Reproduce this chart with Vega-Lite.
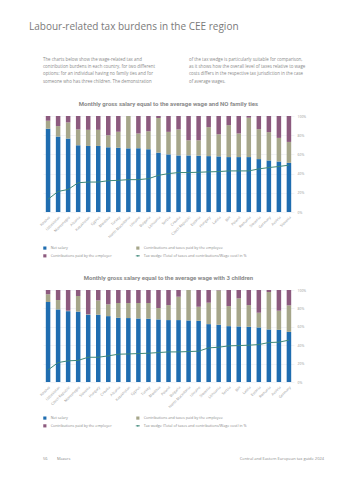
{
  "$schema": "https://vega.github.io/schema/vega-lite/v6.json",
  "background": "white",
  "padding": {"left": 29, "top": 22, "right": 29, "bottom": 5},
  "title": {"text": "Labour-related tax burdens in the CEE region", "anchor": "start", "fontSize": 10, "font": "Open Sans", "fontWeight": "normal", "color": "#7a7a7a", "offset": 25, "frame": "bounds"},
  "datasets": {
    "nofam": [
      {"country": "Kosovo", "net": 86.7, "employee": 8.4, "company": 4.9, "wedge": 13.3},
      {"country": "Uzbekistan", "net": 78.6, "employee": 10.9, "company": 10.5, "wedge": 21.4},
      {"country": "Montenegro", "net": 76.5, "employee": 16.8, "company": 6.7, "wedge": 23.5},
      {"country": "Albania", "net": 69.5, "employee": 16.5, "company": 14.0, "wedge": 30.5},
      {"country": "Kazakhstan", "net": 68.8, "employee": 16.8, "company": 14.4, "wedge": 31.2},
      {"country": "Cyprus", "net": 68.8, "employee": 16.8, "company": 14.4, "wedge": 31.2},
      {"country": "Moldova", "net": 67.4, "employee": 12.6, "company": 20.0, "wedge": 32.6},
      {"country": "Turkey", "net": 67.0, "employee": 16.5, "company": 16.5, "wedge": 33.0},
      {"country": "North Macedonia", "net": 66.3, "employee": 33.7, "company": 0.0, "wedge": 33.7},
      {"country": "Ukraine", "net": 66.3, "employee": 15.5, "company": 18.2, "wedge": 33.7},
      {"country": "Bulgaria", "net": 65.3, "employee": 18.9, "company": 15.8, "wedge": 34.7},
      {"country": "Lithuania", "net": 61.8, "employee": 36.1, "company": 2.1, "wedge": 38.2},
      {"country": "Serbia", "net": 60.0, "employee": 23.5, "company": 16.5, "wedge": 40.0},
      {"country": "Croatia", "net": 58.9, "employee": 27.1, "company": 14.0, "wedge": 41.1},
      {"country": "Czech Republic", "net": 58.9, "employee": 15.8, "company": 25.3, "wedge": 41.1},
      {"country": "Estonia", "net": 58.6, "employee": 16.1, "company": 25.3, "wedge": 41.4},
      {"country": "Hungary", "net": 58.2, "employee": 30.2, "company": 11.6, "wedge": 41.8},
      {"country": "Latvia", "net": 57.9, "employee": 23.1, "company": 19.0, "wedge": 42.1},
      {"country": "BiH", "net": 57.2, "employee": 33.3, "company": 9.5, "wedge": 42.8},
      {"country": "Poland", "net": 57.2, "employee": 24.6, "company": 18.2, "wedge": 42.8},
      {"country": "Romania", "net": 57.2, "employee": 41.0, "company": 1.8, "wedge": 42.8},
      {"country": "Slovenia", "net": 55.1, "employee": 31.2, "company": 13.7, "wedge": 44.9},
      {"country": "Germany", "net": 53.7, "employee": 29.5, "company": 16.8, "wedge": 46.3},
      {"country": "Austria", "net": 52.6, "employee": 24.6, "company": 22.8, "wedge": 47.4},
      {"country": "Slovakia", "net": 51.2, "employee": 21.8, "company": 27.0, "wedge": 48.8}
    ],
    "kids": [
      {"country": "Kosovo", "net": 86.9, "employee": 8.4, "company": 4.7, "wedge": 13.1},
      {"country": "Uzbekistan", "net": 78.9, "employee": 10.2, "company": 10.9, "wedge": 21.1},
      {"country": "Czech Republic", "net": 77.0, "employee": 0.5, "company": 22.5, "wedge": 23.0},
      {"country": "Montenegro", "net": 76.5, "employee": 17.0, "company": 6.5, "wedge": 23.5},
      {"country": "Slovakia", "net": 73.1, "employee": 0.5, "company": 26.4, "wedge": 26.9},
      {"country": "Hungary", "net": 73.1, "employee": 15.6, "company": 11.3, "wedge": 26.9},
      {"country": "Croatia", "net": 71.6, "employee": 12.8, "company": 15.6, "wedge": 28.4},
      {"country": "Albania", "net": 69.8, "employee": 16.0, "company": 14.2, "wedge": 30.2},
      {"country": "Kazakhstan", "net": 69.5, "employee": 16.3, "company": 14.2, "wedge": 30.5},
      {"country": "Cyprus", "net": 69.1, "employee": 16.7, "company": 14.2, "wedge": 30.9},
      {"country": "Turkey", "net": 68.7, "employee": 17.1, "company": 14.2, "wedge": 31.3},
      {"country": "Moldova", "net": 68.0, "employee": 12.4, "company": 19.6, "wedge": 32.0},
      {"country": "Poland", "net": 67.3, "employee": 16.3, "company": 16.4, "wedge": 32.7},
      {"country": "Bulgaria", "net": 67.3, "employee": 25.4, "company": 7.3, "wedge": 32.7},
      {"country": "North Macedonia", "net": 66.9, "employee": 33.1, "company": 0.0, "wedge": 33.1},
      {"country": "Ukraine", "net": 66.5, "employee": 15.3, "company": 18.2, "wedge": 33.5},
      {"country": "Slovenia", "net": 62.9, "employee": 23.3, "company": 13.8, "wedge": 37.1},
      {"country": "Lithuania", "net": 62.2, "employee": 37.4, "company": 0.4, "wedge": 37.8},
      {"country": "Serbia", "net": 60.7, "employee": 21.8, "company": 17.5, "wedge": 39.3},
      {"country": "BiH", "net": 60.4, "employee": 30.5, "company": 9.1, "wedge": 39.6},
      {"country": "Latvia", "net": 60.0, "employee": 23.6, "company": 16.4, "wedge": 40.0},
      {"country": "Estonia", "net": 59.3, "employee": 16.0, "company": 24.7, "wedge": 40.7},
      {"country": "Romania", "net": 57.1, "employee": 40.7, "company": 2.2, "wedge": 42.9},
      {"country": "Austria", "net": 56.7, "employee": 20.8, "company": 22.5, "wedge": 43.3},
      {"country": "Germany", "net": 54.5, "employee": 28.8, "company": 16.7, "wedge": 45.5}
    ]
  },
  "spacing": 16,
  "resolve": {"scale": {"color": "independent"}, "legend": {"color": "independent"}},
  "vconcat": [
    {
      "spacing": 23,
      "hconcat": [
        {
          "width": 123, "height": 1,
          "data": {"values": []},
          "mark": "text",
          "title": {"text": ["The charts below show the wage-related tax and", "contribution burdens in each country, for two different", "options: for an individual having no family ties and for", "someone who has three children. The demonstration"], "anchor": "start", "fontSize": 4.4, "lineHeight": 7.1, "fontWeight": "normal", "font": "Open Sans", "color": "#8a8a8a", "offset": 0}
        },
        {
          "width": 130, "height": 1,
          "data": {"values": []},
          "mark": "text",
          "title": {"text": ["of the tax wedge is particularly suitable for comparison,", "as it shows how the overall level of taxes relative to wage", "costs differs in the respective tax jurisdiction in the case", "of average wages."], "anchor": "start", "fontSize": 4.4, "lineHeight": 7.1, "fontWeight": "normal", "font": "Open Sans", "color": "#8a8a8a", "offset": 0}
        }
      ]
    },
    {
      "title": {"text": "Monthly gross salary equal to the average wage and NO family ties", "anchor": "middle", "frame": "group", "fontSize": 6, "fontWeight": "bold", "font": "Roboto", "color": "#8a8a8a", "offset": 7},
      "data": {"name": "nofam"},
      "width": 251, "height": 96,
      "layer": [
        {
          "transform": [{"fold": ["net", "employee", "company"], "as": ["part", "share"]}],
          "mark": {"type": "bar"},
          "encoding": {
            "x": {"field": "country", "type": "nominal", "sort": null, "title": null,
                  "scale": {"paddingInner": 0.55, "paddingOuter": 0.28},
                  "axis": {"labelAngle": -45, "labelFontSize": 3.6, "labelColor": "#999999", "ticks": false, "domain": false, "labelPadding": 3, "labelFont": "Open Sans"}},
            "y": {"field": "share", "type": "quantitative", "stack": "zero", "title": null,
                  "scale": {"domain": [0, 100]},
                  "axis": {"orient": "right", "values": [0, 20, 40, 60, 80, 100], "labelExpr": "datum.value + '%'", "labelFontSize": 3.4, "labelColor": "#999999", "domain": false, "ticks": false, "grid": true, "gridColor": "#e6e9ee", "gridWidth": 0.5, "labelPadding": 3, "labelFont": "Open Sans"}},
            "order": {"field": "part", "sort": "descending"},
            "color": {"field": "part", "type": "nominal",
                      "scale": {"domain": ["net", "employee", "company", "wedge"], "range": ["#1f6db0", "#a6a68a", "#8c5a7e", "#3e8878"]},
                      "legend": {"orient": "bottom", "direction": "horizontal", "columns": 2, "title": null, "offset": 7, "padding": 0,
                                 "labelFontSize": 3.7, "labelColor": "#8a8a8a", "labelFont": "Open Sans", "symbolSize": 10, "labelOffset": 4, "columnPadding": 22, "rowPadding": 3, "labelLimit": 200,
                                 "labelExpr": "datum.value == 'net' ? 'Net salary' : datum.value == 'employee' ? 'Contributions and taxes paid by the employee' : datum.value == 'company' ? 'Contributions paid by the employer' : 'Tax wedge (Total of taxes and contributions/Wage cost) in %'",
                                 "encode": {"symbols": {"update": {
                                   "shape": {"signal": "datum.value == 'wedge' ? 'M-1.3,0L1.3,0M0,-0.35L0.35,0L0,0.35L-0.35,0Z' : 'square'"},
                                   "fill": {"signal": "scale('color', datum.value)"},
                                   "stroke": {"signal": "scale('color', datum.value)"},
                                   "strokeWidth": {"signal": "datum.value == 'wedge' ? 0.8 : 0"},
                                   "opacity": {"value": 1}
                                 }}}}}
          }
        },
        {
          "mark": {"type": "line", "strokeWidth": 1},
          "encoding": {
            "x": {"field": "country", "type": "nominal", "sort": null},
            "y": {"field": "wedge", "type": "quantitative", "scale": {"domain": [0, 100]},
                  "axis": {"orient": "left", "labels": false, "ticks": false, "domain": false, "grid": false, "title": null, "minExtent": 14, "maxExtent": 14}},
            "color": {"datum": "wedge"}
          }
        }
      ],
      "resolve": {"axis": {"y": "independent"}}
    },
    {
      "title": {"text": "Monthly gross salary equal to the average wage with 3 children", "anchor": "middle", "frame": "group", "fontSize": 6, "fontWeight": "bold", "font": "Roboto", "color": "#8a8a8a", "offset": 7},
      "data": {"name": "kids"},
      "width": 251, "height": 92,
      "layer": [
        {
          "transform": [{"fold": ["net", "employee", "company"], "as": ["part", "share"]}],
          "mark": {"type": "bar"},
          "encoding": {
            "x": {"field": "country", "type": "nominal", "sort": null, "title": null,
                  "scale": {"paddingInner": 0.55, "paddingOuter": 0.28},
                  "axis": {"labelAngle": -45, "labelFontSize": 3.6, "labelColor": "#999999", "ticks": false, "domain": false, "labelPadding": 3, "labelFont": "Open Sans"}},
            "y": {"field": "share", "type": "quantitative", "stack": "zero", "title": null,
                  "scale": {"domain": [0, 100]},
                  "axis": {"orient": "right", "values": [0, 20, 40, 60, 80, 100], "labelExpr": "datum.value + '%'", "labelFontSize": 3.4, "labelColor": "#999999", "domain": false, "ticks": false, "grid": true, "gridColor": "#e6e9ee", "gridWidth": 0.5, "labelPadding": 3, "labelFont": "Open Sans"}},
            "order": {"field": "part", "sort": "descending"},
            "color": {"field": "part", "type": "nominal",
                      "scale": {"domain": ["net", "employee", "company", "wedge"], "range": ["#1f6db0", "#a6a68a", "#8c5a7e", "#3e8878"]},
                      "legend": {"orient": "bottom", "direction": "horizontal", "columns": 2, "title": null, "offset": 7, "padding": 0,
                                 "labelFontSize": 3.7, "labelColor": "#8a8a8a", "labelFont": "Open Sans", "symbolSize": 10, "labelOffset": 4, "columnPadding": 22, "rowPadding": 3, "labelLimit": 200,
                                 "labelExpr": "datum.value == 'net' ? 'Net salary' : datum.value == 'employee' ? 'Contributions and taxes paid by the employee' : datum.value == 'company' ? 'Contributions paid by the employer' : 'Tax wedge (Total of taxes and contributions/Wage cost) in %'",
                                 "encode": {"symbols": {"update": {
                                   "shape": {"signal": "datum.value == 'wedge' ? 'M-1.3,0L1.3,0M0,-0.35L0.35,0L0,0.35L-0.35,0Z' : 'square'"},
                                   "fill": {"signal": "scale('color', datum.value)"},
                                   "stroke": {"signal": "scale('color', datum.value)"},
                                   "strokeWidth": {"signal": "datum.value == 'wedge' ? 0.8 : 0"},
                                   "opacity": {"value": 1}
                                 }}}}}
          }
        },
        {
          "mark": {"type": "line", "strokeWidth": 1},
          "encoding": {
            "x": {"field": "country", "type": "nominal", "sort": null},
            "y": {"field": "wedge", "type": "quantitative", "scale": {"domain": [0, 100]},
                  "axis": {"orient": "left", "labels": false, "ticks": false, "domain": false, "grid": false, "title": null, "minExtent": 14, "maxExtent": 14}},
            "color": {"datum": "wedge"}
          }
        }
      ],
      "resolve": {"axis": {"y": "independent"}}
    },
    {
      "spacing": 0,
      "hconcat": [
        {
          "width": 140, "height": 10,
          "data": {"values": []},
          "mark": "text",
          "title": {"text": "56\u00a0\u00a0\u00a0\u00a0\u00a0\u00a0\u00a0\u00a0\u00a0Mazars", "orient": "bottom", "anchor": "start", "fontSize": 4, "fontWeight": "normal", "font": "Open Sans", "color": "#8a8a8a", "offset": 2}
        },
        {
          "width": 141, "height": 10,
          "data": {"values": []},
          "mark": "text",
          "title": {"text": "Central and Eastern European tax guide 2024", "orient": "bottom", "anchor": "end", "fontSize": 4, "fontWeight": "normal", "font": "Open Sans", "color": "#8a8a8a", "offset": 2}
        }
      ]
    }
  ],
  "config": {
    "view": {"stroke": null},
    "font": "Open Sans"
  }
}
